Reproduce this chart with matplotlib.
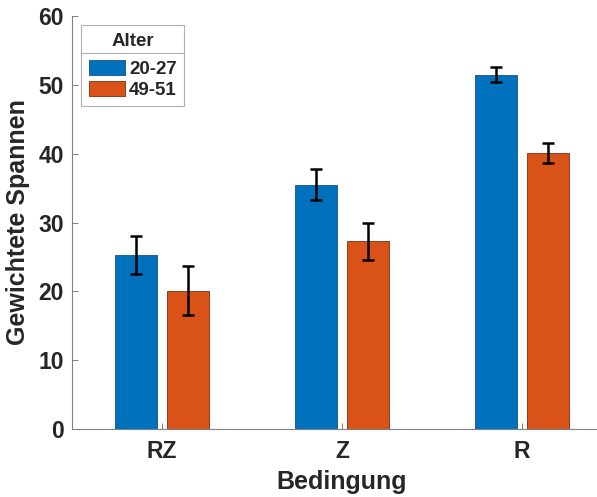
import matplotlib
matplotlib.use("Agg")
import matplotlib.pyplot as plt
import numpy as np
from matplotlib.lines import Line2D

plt.rcParams['font.family'] = ['Liberation Sans', 'DejaVu Sans']
plt.rcParams['font.weight'] = 'bold'

# Data
conditions = ["RZ", "Z", "R"]
groups = ["20-27", "49-51"]
means_young = [25.3, 35.5, 51.5]
means_old = [20.1, 27.3, 40.1]
err_young = [2.8, 2.3, 1.1]
err_old = [3.6, 2.7, 1.4]

blue = "#0072BD"
orange = "#D95319"
txt = "#262626"

W, H = 597, 497
fig = plt.figure(figsize=(W / 100, H / 100), dpi=100)
left, right, top, bottom = 72, 612, 16, 429
ax = fig.add_axes([left / W, (H - bottom) / H, (right - left) / W, (bottom - top) / H])

x = np.arange(1, len(conditions) + 1)
width = 0.232
offset = 0.143

ax.bar(x - offset, means_young, width, color=blue, edgecolor="#1a4f7a", linewidth=0.6, label=groups[0], zorder=2)
ax.bar(x + offset, means_old, width, color=orange, edgecolor="#7a2e10", linewidth=0.6, label=groups[1], zorder=2)
ax.errorbar(x - offset, means_young, yerr=err_young, fmt="none", ecolor="black", elinewidth=1.8, capsize=4, capthick=1.8, zorder=3)
ax.errorbar(x + offset, means_old, yerr=err_old, fmt="none", ecolor="black", elinewidth=1.8, capsize=4, capthick=1.8, zorder=3)

ax.set_xlim(0.5, 3.5)
ax.set_ylim(0, 60)
ax.set_xticks(x)
ax.set_xticklabels(conditions)
ax.set_yticks(np.arange(0, 61, 10))

for s in ["top", "right"]:
    ax.spines[s].set_visible(False)
for s in ["left", "bottom"]:
    ax.spines[s].set_color("#808080")
    ax.spines[s].set_linewidth(0.8)

ax.tick_params(axis="both", direction="in", length=4, width=0.7, color="#808080",
               labelsize=16.5, labelcolor=txt)
ax.tick_params(axis="x", pad=8)
ax.tick_params(axis="y", pad=6)
for lab in ax.get_xticklabels() + ax.get_yticklabels():
    lab.set_fontweight("bold")

ax.set_xlabel("Bedingung", fontsize=18, fontweight="bold", color=txt, labelpad=5)
ax.set_ylabel("Gewichtete Spannen", fontsize=18, fontweight="bold", color=txt, labelpad=6)

leg = ax.legend(title="Alter", loc="upper left", bbox_to_anchor=(9 / (right - left), 1 - 9 / (bottom - top)),
                fontsize=13.5, title_fontproperties={"weight": "bold", "size": 13.5},
                frameon=True, fancybox=False, edgecolor="#b0b0b0", framealpha=1,
                handlelength=1.97, handleheight=0.85, handletextpad=0.2, borderpad=0.4,
                labelspacing=0.15, borderaxespad=0)
leg.get_frame().set_linewidth(0.8)
# extra room between the title and the entries
leg._legend_box.sep = 7.5
for t in leg.get_texts():
    t.set_color(txt)
    t.set_fontweight("bold")
leg.get_title().set_color(txt)

# separator line under the legend title
fig.canvas.draw()
lb = leg.get_window_extent()
tb = leg.get_title().get_window_extent()
ysep = (tb.y0 - 3) / H
fig.add_artist(Line2D([lb.x0 / W, lb.x1 / W], [ysep, ysep], color="#b0b0b0", linewidth=0.8))

fig.savefig("out.png", dpi=100, facecolor="white")
